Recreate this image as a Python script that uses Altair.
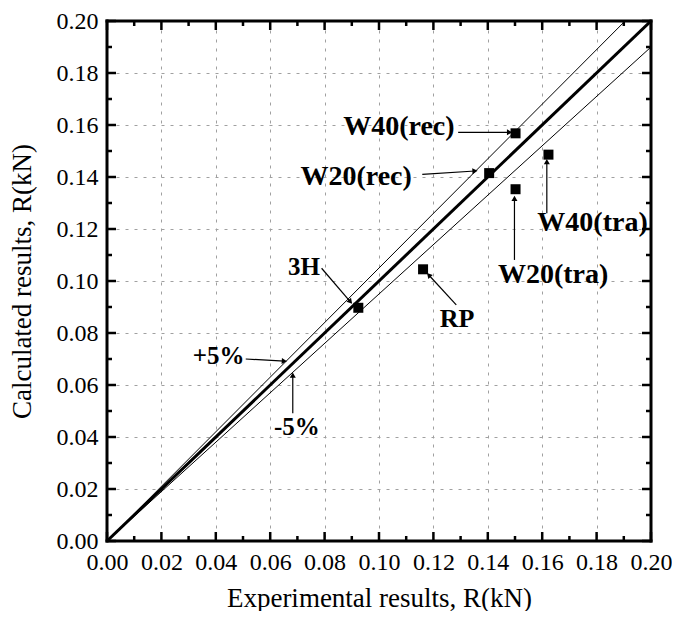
import math
import altair as alt
import pandas as pd

# ---------------- data ----------------
names = ["3H", "RP", "W20(rec)", "W20(tra)", "W40(rec)", "W40(tra)"]
exp_r = [0.0924, 0.1162, 0.1405, 0.1502, 0.1502, 0.1623]
calc_r = [0.0897, 0.1045, 0.1415, 0.1353, 0.1568, 0.1486]

line_x = [0.0, 0.2]
band_names = ["+5%", "-5%"]
band_factors = [1.05, 0.95]

major_ticks = [0.00, 0.02, 0.04, 0.06, 0.08, 0.10, 0.12, 0.14, 0.16, 0.18, 0.20]
minor_ticks = [0.01, 0.03, 0.05, 0.07, 0.09, 0.11, 0.13, 0.15, 0.17, 0.19]

ann_text = ["W40(rec)", "W20(rec)", "W20(tra)", "W40(tra)", "RP", "3H", "+5%", "-5%"]
ann_size = [28, 28, 28, 28, 26, 25, 25, 25]
ann_x = [0.1073, 0.0916, 0.1640, 0.1785, 0.1287, 0.0724, 0.0410, 0.0698]
ann_y = [0.1593, 0.1401, 0.1023, 0.1222, 0.0853, 0.1055, 0.0712, 0.0440]
arr_x1 = [0.1291, 0.1159, 0.1498, 0.1617, 0.1284, 0.0789, 0.0510, 0.0683]
arr_y1 = [0.1572, 0.1410, 0.1081, 0.1261, 0.0908, 0.1049, 0.0700, 0.0491]
arr_x2 = [0.1480, 0.1353, 0.1498, 0.1617, 0.1183, 0.0895, 0.0652, 0.0683]
arr_y2 = [0.1572, 0.1423, 0.1318, 0.1459, 0.1023, 0.0920, 0.0692, 0.0638]

# ---------------- layout ----------------
W, H = 544, 520
DMIN, DMAX = 0.0, 0.2
FONT = "Liberation Serif"

xs = alt.Scale(domain=[DMIN, DMAX], nice=False, zero=False)
ys = alt.Scale(domain=[DMIN, DMAX], nice=False, zero=False)

pts = pd.DataFrame({"name": names, "exp": exp_r, "calc": calc_r})

ident = pd.DataFrame({"x": line_x, "y": line_x})
band_rows = []
for nm, f in zip(band_names, band_factors):
    for xv in line_x:
        band_rows.append({"band": nm, "x": xv, "y": xv * f})
bands = pd.DataFrame(band_rows)

ann = pd.DataFrame({"text": ann_text, "x": ann_x, "y": ann_y, "size": ann_size})


def head_angle(x1, y1, x2, y2):
    dx = (x2 - x1) / (DMAX - DMIN) * W
    dy = -(y2 - y1) / (DMAX - DMIN) * H
    return math.degrees(math.atan2(dx, -dy)) % 360


arrows = pd.DataFrame({
    "x1": arr_x1, "y1": arr_y1, "x2": arr_x2, "y2": arr_y2,
    "angle": [head_angle(a, b, c, d) for a, b, c, d in zip(arr_x1, arr_y1, arr_x2, arr_y2)],
})

majors = pd.DataFrame({"v": major_ticks})
minors = pd.DataFrame({"v": minor_ticks})

common_axis = dict(
    values=major_ticks, format=".2f", ticks=False, domain=False,
    grid=True, gridDash=[3, 6], gridColor="#a0a0a0", gridWidth=1,
    labelFont=FONT, labelFontSize=24, labelColor="black",
    labelOverlap=False, labelFlush=False, labelBound=False,
    titleFont=FONT, titleFontSize=27, titleFontWeight="normal", titleColor="black",
)
x_axis = alt.Axis(title="Experimental results, R(kN)", labelPadding=9, titlePadding=11, **common_axis)
y_axis = alt.Axis(title="Calculated results, R(kN)", labelPadding=9, titlePadding=20, **common_axis)


def X(f):
    return alt.X(f, scale=xs, axis=x_axis)


def Y(f):
    return alt.Y(f, scale=ys, axis=y_axis)


points = alt.Chart(pts).mark_point(shape="square", filled=True, color="black", size=100, opacity=1).encode(
    x=X("exp:Q"), y=Y("calc:Q"),
)

ident_line = alt.Chart(ident).mark_line(color="black", strokeWidth=3, clip=True).encode(
    x=X("x:Q"), y=Y("y:Q"),
)

band_lines = alt.Chart(bands).mark_line(color="black", strokeWidth=1, clip=True).encode(
    x=X("x:Q"), y=Y("y:Q"), detail="band:N",
)

arrow_lines = alt.Chart(arrows).mark_rule(color="black", strokeWidth=1.2).encode(
    x=X("x1:Q"), y=Y("y1:Q"), x2="x2:Q", y2="y2:Q",
)

arrow_heads = alt.Chart(arrows).mark_point(shape="triangle-up", filled=True, color="black", size=36, opacity=1).encode(
    x=X("x2:Q"), y=Y("y2:Q"),
    angle=alt.Angle("angle:Q", scale=None),
)

labels = alt.Chart(ann).mark_text(font=FONT, fontWeight="bold", color="black",
                                  align="center", baseline="middle").encode(
    x=X("x:Q"), y=Y("y:Q"), text="text:N",
    size=alt.Size("size:Q", scale=None, legend=None),
)

TMAJ, TMIN, TW = 9, 5, 2.5


def tick_layers(df, L):
    bottom = alt.Chart(df).mark_rule(color="black", strokeWidth=TW).encode(
        x=X("v:Q"), y=alt.value(H), y2=alt.value(H - L))
    top = alt.Chart(df).mark_rule(color="black", strokeWidth=TW).encode(
        x=X("v:Q"), y=alt.value(0), y2=alt.value(L))
    left = alt.Chart(df).mark_rule(color="black", strokeWidth=TW).encode(
        y=Y("v:Q"), x=alt.value(0), x2=alt.value(L))
    right = alt.Chart(df).mark_rule(color="black", strokeWidth=TW).encode(
        y=Y("v:Q"), x=alt.value(W), x2=alt.value(W - L))
    return [bottom, top, left, right]


FW = 3
frame_src = pd.DataFrame({"k": [0]})
frame = [
    alt.Chart(frame_src).mark_rule(color="black", strokeWidth=FW, strokeCap="square").encode(
        x=alt.value(0), x2=alt.value(W), y=alt.value(0)),
    alt.Chart(frame_src).mark_rule(color="black", strokeWidth=FW, strokeCap="square").encode(
        x=alt.value(0), x2=alt.value(W), y=alt.value(H)),
    alt.Chart(frame_src).mark_rule(color="black", strokeWidth=FW, strokeCap="square").encode(
        y=alt.value(0), y2=alt.value(H), x=alt.value(0)),
    alt.Chart(frame_src).mark_rule(color="black", strokeWidth=FW, strokeCap="square").encode(
        y=alt.value(0), y2=alt.value(H), x=alt.value(W)),
]

layers = [points, band_lines, ident_line, arrow_lines, arrow_heads, labels] \
    + tick_layers(majors, TMAJ) + tick_layers(minors, TMIN) + frame

chart = alt.layer(*layers).properties(
    width=W, height=H,
    padding={"left": 99, "top": 13, "right": 21, "bottom": 70},
    autosize=alt.AutoSizeParams(type="none"),
).configure_view(
    stroke=None,
).configure(background="white")

chart.save("out.html", embed_options={"renderer": "svg", "actions": False})
